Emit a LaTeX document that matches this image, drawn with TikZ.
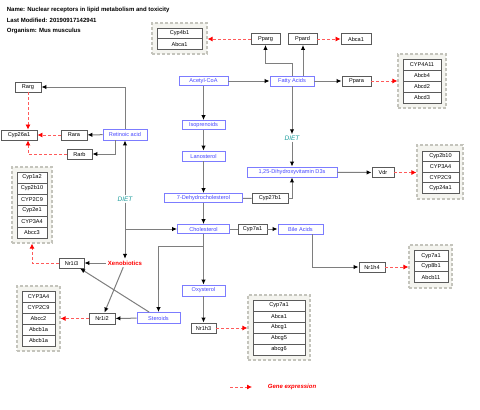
\documentclass[tikz,border=0pt]{standalone}
\usepackage{fontspec}
\setmainfont{Liberation Sans}
\usepackage{tikz}
\usetikzlibrary{arrows.meta}
\usepackage{xcolor}
\definecolor{LineGray}{HTML}{7E7E7E}
\definecolor{BoxGray}{HTML}{5A5A5A}
\definecolor{MetaBlue}{HTML}{4646FF}
\definecolor{MetaEdge}{HTML}{7C7CFF}
\definecolor{GroupEdge}{HTML}{C4C4BC}
\definecolor{GroupFill}{HTML}{F4F4EF}
\definecolor{DietTeal}{HTML}{1B9C9C}
\definecolor{ExprRed}{HTML}{FF5A5A}
\newcommand\nodeacoa{Acetyl-CoA}
\newcommand\nodefa{Fatty Acids}
\newcommand\nodeiso{Isoprenoids}
\newcommand\nodelan{Lanosterol}
\newcommand\nodedhc{7-Dehydrocholesterol}
\newcommand\nodedthree{1,25-Dihydroxyvitamin D3s}
\newcommand\nodechol{Cholesterol}
\newcommand\nodeba{Bile Acids}
\newcommand\nodeoxy{Oxysterol}
\newcommand\nodester{Steroids}
\newcommand\nodera{Retinoic acid}
\newcommand\nodexeno{Xenobiotics}
\tikzstyle{smallfont} = [font=\fontsize{5.6}{6}\selectfont]
\tikzstyle{gn} = [rectangle, smallfont, inner sep=0pt, minimum height=10pt, draw=BoxGray, fill=white, line width=0.9pt]
\tikzstyle{mn} = [rectangle, smallfont, inner sep=0pt, minimum height=10pt, draw=MetaEdge, fill=white, text=MetaBlue, line width=0.9pt]
\tikzstyle{grp} = [rectangle, inner sep=0pt, draw=GroupEdge, fill=GroupFill, dash pattern=on 3pt off 2pt, line width=1.2pt]
\tikzstyle{diet} = [text=DietTeal, font=\fontsize{6.5}{7}\selectfont\itshape, inner sep=1pt]
\tikzstyle{expr} = [-{Latex[length=5pt, width=5pt, color=red]}, draw=ExprRed, dash pattern=on 3pt off 2pt, line width=0.8pt]
\tikzset{>={Latex[length=5pt, width=4.5pt, color=black]}, every picture/.style={line width=1pt}}

\begin{document}
\begin{tikzpicture}[x=1pt, y=-1pt, draw=LineGray]
\useasboundingbox (0,0) rectangle (480,410);
\node[anchor=west, font=\fontsize{6}{7}\selectfont\bfseries] (ttl) at (3,10) {Name: Nuclear receptors in lipid metabolism and toxicity};
\node[anchor=west, font=\fontsize{6}{7}\selectfont\bfseries] (mod) at (3,20.5) {Last Modified: 20190917142941};
\node[anchor=west, font=\fontsize{6}{7}\selectfont\bfseries] (org) at (3,31) {Organism: Mus musculus};
% target gene groups
\node[grp, minimum width=55pt, minimum height=31pt] (g1) at (179.5,38.5) {};
\node[gn, minimum width=45pt, minimum height=10.5pt] (g1a) at (179.5,33.5) {Cyp4b1};
\node[gn, minimum width=45pt, minimum height=10.5pt] (g1b) at (179.5,44) {Abca1};
\node[grp, minimum width=48pt, minimum height=54pt] (g2) at (422,81) {};
\node[gn, minimum width=38pt, minimum height=11pt] (g2a) at (422,64.5) {CYP4A11};
\node[gn, minimum width=38pt, minimum height=11pt] (g2b) at (422,75.5) {Abcb4};
\node[gn, minimum width=38pt, minimum height=11pt] (g2c) at (422,86.5) {Abcd2};
\node[gn, minimum width=38pt, minimum height=11pt] (g2d) at (422,97.5) {Abcd3};
\node[grp, minimum width=40pt, minimum height=76pt] (g3) at (32,205) {};
\node[gn, minimum width=30pt, minimum height=11pt] (g3a) at (32,177.5) {Cyp1a2};
\node[gn, minimum width=30pt, minimum height=11pt] (g3b) at (32,188.5) {Cyp2b10};
\node[gn, minimum width=30pt, minimum height=11pt] (g3c) at (32,199.5) {CYP2C9};
\node[gn, minimum width=30pt, minimum height=11pt] (g3d) at (32,210.5) {Cyp2e1};
\node[gn, minimum width=30pt, minimum height=11pt] (g3e) at (32,221.5) {CYP3A4};
\node[gn, minimum width=30pt, minimum height=11pt] (g3f) at (32,232.5) {Abcc3};
\node[grp, minimum width=43pt, minimum height=65pt] (g4) at (38.5,318.5) {};
\node[gn, minimum width=33pt, minimum height=11pt] (g4a) at (38.5,296.5) {CYP3A4};
\node[gn, minimum width=33pt, minimum height=11pt] (g4b) at (38.5,307.5) {CYP2C9};
\node[gn, minimum width=33pt, minimum height=11pt] (g4c) at (38.5,318.5) {Abcc2};
\node[gn, minimum width=33pt, minimum height=11pt] (g4d) at (38.5,329.5) {Abcb1a};
\node[gn, minimum width=33pt, minimum height=11pt] (g4e) at (38.5,340.5) {Abcb1a};
\node[grp, minimum width=46pt, minimum height=54pt] (g5) at (440,172) {};
\node[gn, minimum width=37pt, minimum height=10.5pt] (g5a) at (440.5,156.25) {Cyp2b10};
\node[gn, minimum width=37pt, minimum height=10.5pt] (g5b) at (440.5,166.75) {CYP3A4};
\node[gn, minimum width=37pt, minimum height=10.5pt] (g5c) at (440.5,177.25) {CYP2C9};
\node[gn, minimum width=37pt, minimum height=10.5pt] (g5d) at (440.5,187.75) {Cyp24a1};
\node[grp, minimum width=43pt, minimum height=43pt] (g6) at (430.5,266.5) {};
\node[gn, minimum width=34pt, minimum height=10.5pt] (g6a) at (431,256) {Cyp7a1};
\node[gn, minimum width=34pt, minimum height=10.5pt] (g6b) at (431,266.5) {Cyp8b1};
\node[gn, minimum width=34pt, minimum height=10.5pt] (g6c) at (431,277) {Abcb11};
\node[grp, minimum width=62pt, minimum height=65pt] (g7) at (279,327.5) {};
\node[gn, minimum width=52pt, minimum height=11pt] (g7a) at (279,305.5) {Cyp7a1};
\node[gn, minimum width=52pt, minimum height=11pt] (g7b) at (279,316.5) {Abca1};
\node[gn, minimum width=52pt, minimum height=11pt] (g7c) at (279,327.5) {Abcg1};
\node[gn, minimum width=52pt, minimum height=11pt] (g7d) at (279,338.5) {Abcg5};
\node[gn, minimum width=52pt, minimum height=11pt] (g7e) at (279,349.5) {abcg6};
% metabolites
\node[mn, minimum width=49pt, minimum height=9pt] (acoa) at (203.5,81) {\nodeacoa};
\node[mn, minimum width=44pt] (fa) at (292,81) {\nodefa};
\node[mn, minimum width=43pt, minimum height=9pt] (iso) at (203.5,125) {\nodeiso};
\node[mn, minimum width=43pt] (lan) at (203.5,156) {\nodelan};
\node[mn, minimum width=78pt, minimum height=9pt] (dhc) at (203.5,198) {\nodedhc};
\node[mn, minimum width=90pt] (dthree) at (292,172) {\nodedthree};
\node[mn, minimum width=52pt, minimum height=9pt] (chol) at (203.5,229) {\nodechol};
\node[mn, minimum width=45pt] (ba) at (300.5,229) {\nodeba};
\node[mn, minimum width=43pt, minimum height=11pt] (oxy) at (203.5,290.5) {\nodeoxy};
\node[mn, minimum width=43pt, minimum height=11pt] (ster) at (158.5,318) {\nodester};
\node[mn, minimum width=44pt, minimum height=11pt] (ra) at (125,134.5) {\nodera};
\node[text=red, font=\fontsize{6}{7}\selectfont\bfseries, inner sep=1.5pt] (xeno) at (125,263) {\nodexeno};
\node[diet] (dietl) at (125,199) {DIET};
\node[diet] (dietr) at (292,138) {DIET};
% receptors and enzymes
\node[gn, minimum width=29pt, minimum height=11pt] (pparg) at (265.5,39) {Pparg};
\node[gn, minimum width=29pt, minimum height=11pt] (ppard) at (302.5,39) {Ppard};
\node[gn, minimum width=30pt, minimum height=11pt] (abca) at (356,39) {Abca1};
\node[gn, minimum width=29pt] (ppara) at (356.5,81) {Ppara};
\node[gn, minimum width=26pt] (rarg) at (28,87) {Rarg};
\node[gn, minimum width=36pt] (cyp26) at (19,135) {Cyp26a1};
\node[gn, minimum width=26pt] (rara) at (74,135) {Rara};
\node[gn, minimum width=25pt] (rarb) at (79.5,154) {Rarb};
\node[gn, minimum width=36pt] (cyp27) at (270,198.5) {Cyp27b1};
\node[gn, minimum width=29pt] (cyp7) at (252.5,229) {Cyp7a1};
\node[gn, minimum width=22pt] (vdr) at (383,172.5) {Vdr};
\node[gn, minimum width=26pt] (nrhf) at (372,267) {Nr1h4};
\node[gn, minimum width=25pt] (nrit) at (71.5,263) {Nr1i3};
\node[gn, minimum width=26pt, minimum height=11pt] (nrib) at (102,318.5) {Nr1i2};
\node[gn, minimum width=25pt] (nrht) at (203.5,328) {Nr1h3};
% conversions
\draw [->] (acoa) -- (fa);
\draw [->] (fa) -- (ppara);
\draw [->] (acoa) -- (iso);
\draw [->] (iso) -- (lan);
\draw [->] (lan) -- (dhc);
\draw [->] (dhc) -- (chol);
\draw (dhc) -- (cyp27);
\draw [->] (cyp27) -| (dthree);
\draw [->] (fa) -- (dietr);
\draw [->] (dietr) -- (dthree);
\draw [->] (dthree) -- (vdr);
\draw (chol) -- (cyp7);
\draw [->] (cyp7) -- (ba);
\draw [->] ([xshift=11.5pt]ba.south) |- (nrhf);
\draw [->] (chol) -- (oxy);
\draw [->] (oxy) -- (nrht);
\draw [->] (chol) -- ++(0,17) -| (ster);
\draw [->] (fa) -- ++(0,-18) -| (pparg);
\draw [->] ([xshift=11pt]fa.north) -- ([xshift=11pt]fa.north |- ppard.south);
\draw [->] (dietl) -- (ra);
\draw [->] (dietl) -- (xeno);
\draw [->] (dietl) |- (chol);
\draw [->] (ra) |- (rarg);
\draw [->] (ra) -- (rara);
\draw [->] ([xshift=-10pt]ra.south) |- (rarb);
\draw [->] (xeno) -- (nrit);
\draw [->] (xeno) -- (nrib);
\draw [->] (ster) -- (nrib);
\draw [->] (ster) -- (nrit);
% gene expression
\draw [expr] (pparg) -- (pparg -| g1.east);
\draw [expr] (ppard) -- (abca);
\draw [expr] (ppara) -- (ppara -| g2.west);
\draw [expr] (vdr) -- (vdr -| g5.west);
\draw [expr] (nrhf) -- (nrhf -| g6.west);
\draw [expr] (nrht) -- (nrht -| g7.west);
\draw [expr] (nrib) -- (nrib -| g4.east);
\draw [expr] (nrit) -| (g3.south);
\draw [expr] (rarg) -- (rarg |- cyp26.north);
\draw [expr] (rara) -- (cyp26);
\draw [expr] (rarb) -| (rarg |- cyp26.south);
% legend
\coordinate (lga) at (230,387);
\coordinate (lgb) at (252,387);
\draw [expr] (lga) -- (lgb);
\node[anchor=west, text=red, font=\fontsize{6}{7}\selectfont\bfseries\itshape] (lgt) at (264,387) {Gene expression};
\end{tikzpicture}
\end{document}
